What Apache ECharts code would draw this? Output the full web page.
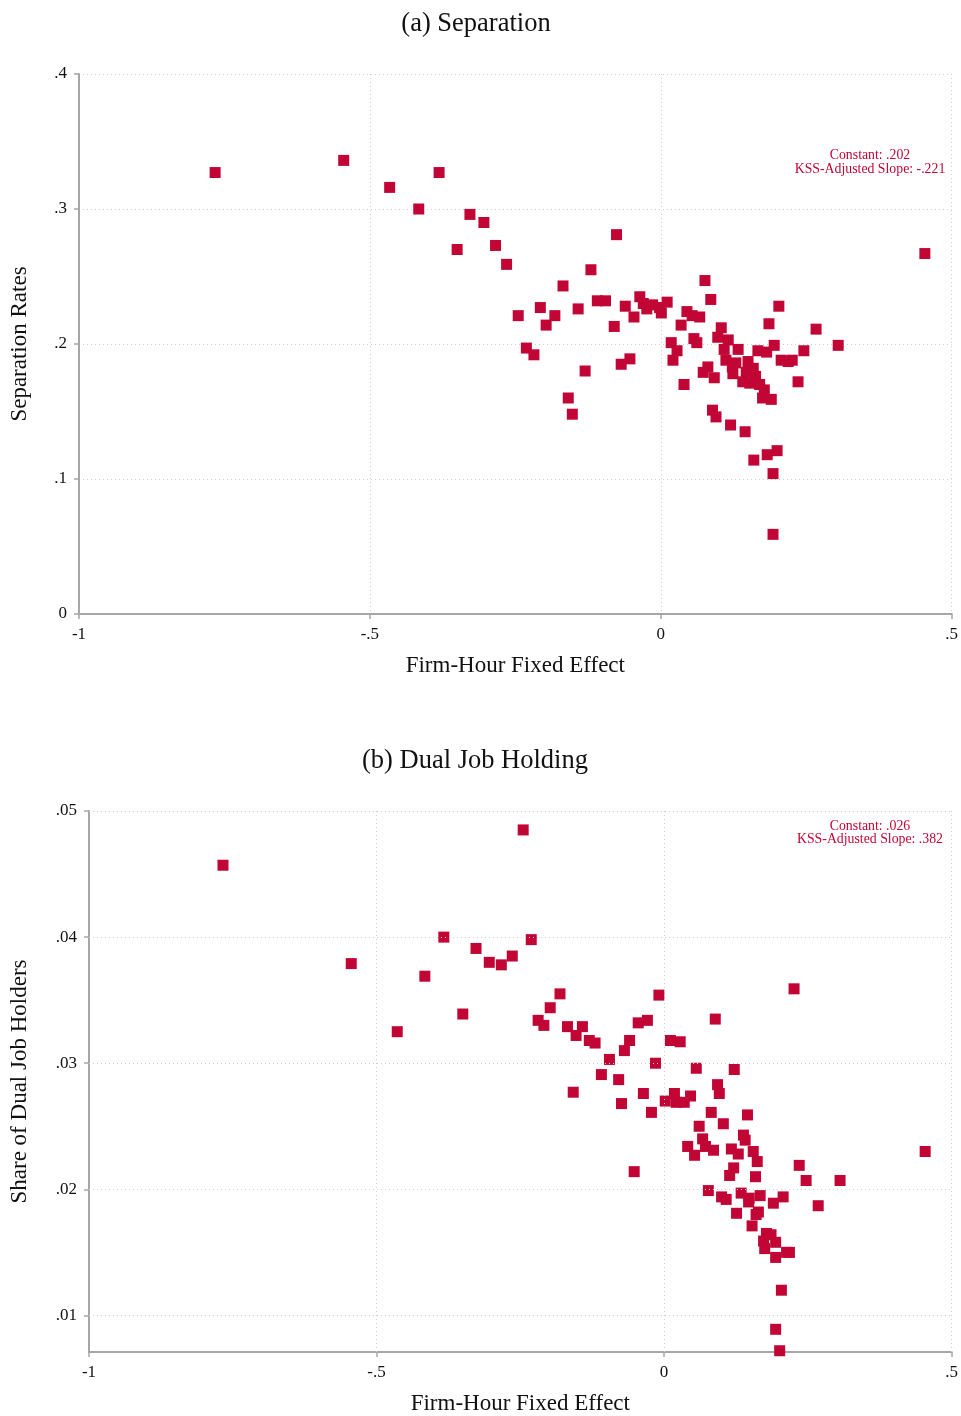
<!DOCTYPE html>
<html><head><meta charset="utf-8">
<script src="https://cdn.jsdelivr.net/npm/echarts@6/dist/echarts.min.js"></script>
<style>html,body{margin:0;padding:0;background:#fff}#c{width:961px;height:1416px}</style>
</head><body><div id="c"></div>
<script>
// Panel (a): Separation
const sepFE = [-0.766,-0.545,-0.466,-0.381,-0.416,-0.328,-0.304,-0.350,-0.284,-0.265,-0.076,-0.168,-0.120,
-0.109,-0.095,-0.036,-0.207,-0.245,-0.182,-0.197,-0.142,-0.061,-0.046,-0.080,
-0.030,-0.014,-0.024,-0.002,0.011,0.001,
-0.231,-0.218,-0.053,-0.068,-0.130,-0.159,-0.152,
0.076,0.086,0.045,0.054,0.067,0.035,0.104,0.018,0.028,0.021,0.057,0.062,0.098,0.040,0.081,0.073,0.092,0.089,0.095,0.120,
0.454,0.203,0.186,0.267,0.116,0.109,0.133,0.167,0.182,0.195,0.305,0.246,0.207,0.219,0.226,0.112,0.129,0.150,0.123,0.124,0.159,0.147,0.163,0.141,0.153,0.170,0.178,0.175,0.190,0.236,0.145,0.160,0.183,0.200,0.193,0.193];
const sepRate = [0.327,0.336,0.316,0.327,0.300,0.296,0.290,0.270,0.273,0.259,0.281,0.243,0.255,
0.232,0.232,0.235,0.227,0.221,0.221,0.214,0.226,0.228,0.220,0.213,
0.230,0.229,0.226,0.227,0.231,0.223,
0.197,0.192,0.189,0.185,0.180,0.160,0.148,
0.247,0.233,0.224,0.221,0.220,0.214,0.212,0.201,0.195,0.188,0.204,0.201,0.205,0.170,0.183,0.179,0.175,0.151,0.146,0.140,
0.267,0.228,0.215,0.211,0.203,0.196,0.196,0.195,0.194,0.199,0.199,0.195,0.188,0.187,0.188,0.188,0.186,0.187,0.183,0.178,0.182,0.179,0.176,0.172,0.171,0.170,0.166,0.160,0.159,0.172,0.135,0.114,0.118,0.121,0.104,0.059];

// Panel (b): Dual Job Holding
const dualFE = [-0.767,-0.245,-0.544,-0.464,-0.416,-0.383,-0.350,-0.327,-0.304,-0.283,-0.264,-0.231,-0.181,-0.198,-0.219,-0.209,-0.158,-0.009,0.226,0.089,0.454,-0.052,
-0.168,-0.142,-0.153,-0.130,-0.120,-0.045,-0.029,-0.060,-0.069,-0.095,-0.015,0.011,0.028,-0.109,-0.079,-0.036,-0.074,-0.022,
0.056,0.122,0.093,0.096,0.046,0.002,0.018,0.021,0.035,0.082,0.103,0.061,0.145,0.067,0.072,0.086,0.041,0.053,0.138,0.141,0.117,0.129,0.155,0.162,
0.121,0.114,0.159,0.235,0.247,0.306,0.268,0.077,0.100,0.108,0.134,0.148,0.147,0.167,0.207,0.190,0.126,0.164,0.160,0.153,0.178,0.186,0.173,0.194,0.175,0.194,0.213,0.218,0.204,0.194,0.201];
const dualShare = [0.0457,0.0485,0.0379,0.0325,0.0369,0.0400,0.0339,0.0391,0.0380,0.0378,0.0385,0.0398,0.0355,0.0344,0.0334,0.0330,0.0277,0.0354,0.0359,0.0335,0.0230,0.0214,
0.0329,0.0329,0.0322,0.0318,0.0316,0.0332,0.0334,0.0318,0.0310,0.0303,0.0300,0.0318,0.0317,0.0291,0.0287,0.0276,0.0268,0.0261,
0.0296,0.0295,0.0283,0.0276,0.0274,0.0270,0.0276,0.0269,0.0269,0.0261,0.0252,0.0250,0.0259,0.0240,0.0234,0.0231,0.0234,0.0227,0.0243,0.0239,0.0232,0.0228,0.0230,0.0222,
0.0217,0.0211,0.0210,0.0219,0.0207,0.0207,0.0187,0.0199,0.0194,0.0192,0.0197,0.0193,0.0190,0.0195,0.0194,0.0189,0.0181,0.0182,0.0180,0.0171,0.0165,0.0164,0.0159,0.0158,0.0153,0.0146,0.0150,0.0150,0.0120,0.0089,0.0072];

const xTicks = [-1, -0.5, 0, 0.5];
const sepTicks = [0, 0.1, 0.2, 0.3, 0.4];
const dualTicks = [0.01, 0.02, 0.03, 0.04, 0.05];
const sepNote = ['Constant: .202', 'KSS-Adjusted Slope: -.221'];
const dualNote = ['Constant: .026', 'KSS-Adjusted Slope: .382'];

const FONT = '"Liberation Serif", "DejaVu Serif", serif';
const RED = '#C10534';
const AX = '#a6a6a6';
const GRIDC = '#cfcfcf';
const fmt = v => { const s = String(Math.round(v * 1000) / 1000); return s.replace(/^(-?)0\./, '$1.'); };
const zip = (a, b) => a.map((v, i) => [v, b[i]]);

function xAxis(gi) {
  return {
    type: 'value', gridIndex: gi, min: -1, max: 0.5, interval: 0.5,
    name: 'Firm-Hour Fixed Effect', nameLocation: 'middle', nameGap: 40,
    nameTextStyle: { fontFamily: FONT, fontSize: 23, color: '#111' },
    axisLine: { show: true, onZero: false, lineStyle: { color: AX, width: 2 } },
    axisTick: { show: true, length: 5, lineStyle: { color: AX, width: 1.5 } },
    axisLabel: { fontFamily: FONT, fontSize: 17, color: '#111', margin: 12, formatter: fmt },
    splitLine: { show: gi === 0, lineStyle: { color: GRIDC, type: [1, 3], width: 1 } }
  };
}

const chart = echarts.init(document.getElementById('c'));
chart.setOption({
  animation: false,
  backgroundColor: '#fff',
  title: [
    { text: '(a) Separation', left: 471, top: 6, textAlign: 'center', textStyle: { fontFamily: FONT, fontSize: 26.5, fontWeight: 'normal', color: '#111' } },
    { text: '(b) Dual Job Holding', left: 470, top: 743, textAlign: 'center', textStyle: { fontFamily: FONT, fontSize: 26.5, fontWeight: 'normal', color: '#111' } },
    { text: sepNote.join('\n'), left: 865, top: 143, textAlign: 'center', textStyle: { fontFamily: FONT, fontSize: 13.8, fontWeight: 'normal', color: RED, lineHeight: 14, align: 'center' } },
    { text: dualNote.join('\n'), left: 865, top: 815, textAlign: 'center', textStyle: { fontFamily: FONT, fontSize: 13.8, fontWeight: 'normal', color: RED, lineHeight: 13, align: 'center' } }
  ],
  grid: [
    { left: 79, right: 9, top: 74, height: 540 },
    { left: 89, right: 9, top: 811, height: 541 }
  ],
  xAxis: [xAxis(0), xAxis(1)],
  yAxis: [
    {
      type: 'value', gridIndex: 0, min: 0, max: 0.4, interval: 0.1,
      name: 'Separation Rates', nameLocation: 'middle', nameGap: 48, nameRotate: 90,
      nameTextStyle: { fontFamily: FONT, fontSize: 23, color: '#111' },
      axisLine: { show: true, onZero: false, lineStyle: { color: AX, width: 2 } },
      axisTick: { show: true, length: 5, lineStyle: { color: AX, width: 1.5 } },
      axisLabel: { fontFamily: FONT, fontSize: 17, color: '#111', margin: 12, formatter: fmt },
      splitLine: { show: true, lineStyle: { color: GRIDC, type: [1, 3], width: 1 } }
    },
    {
      type: 'value', gridIndex: 1, min: 0.0071, max: 0.05,
      name: 'Share of Dual Job Holders', nameLocation: 'middle', nameGap: 58, nameRotate: 90,
      nameTextStyle: { fontFamily: FONT, fontSize: 23, color: '#111' },
      axisLine: { show: true, onZero: false, lineStyle: { color: AX, width: 2 } },
      axisTick: { show: true, length: 5, customValues: dualTicks, lineStyle: { color: AX, width: 1.5 } },
      axisLabel: { fontFamily: FONT, fontSize: 17, color: '#111', margin: 12, customValues: dualTicks, formatter: fmt },
      splitLine: { show: false }
    }
  ],
  series: [
    {
      type: 'scatter', xAxisIndex: 0, yAxisIndex: 0, symbol: 'rect', symbolSize: 11, z: 3,
      itemStyle: { color: RED, opacity: 1 }, data: zip(sepFE, sepRate)
    },
    {
      type: 'scatter', xAxisIndex: 1, yAxisIndex: 1, data: [], z: 1, silent: true,
      markLine: {
        silent: true, symbol: 'none', animation: false, label: { show: false },
        lineStyle: { color: GRIDC, type: [1, 3], width: 1 },
        data: dualTicks.map(v => ({ yAxis: v })).concat(xTicks.slice(1).map(v => ({ xAxis: v })))
      }
    },
    {
      type: 'scatter', xAxisIndex: 1, yAxisIndex: 1, symbol: 'rect', symbolSize: 11, z: 3,
      itemStyle: { color: RED, opacity: 1 }, data: zip(dualFE, dualShare)
    }
  ]
});
</script>
</body></html>
